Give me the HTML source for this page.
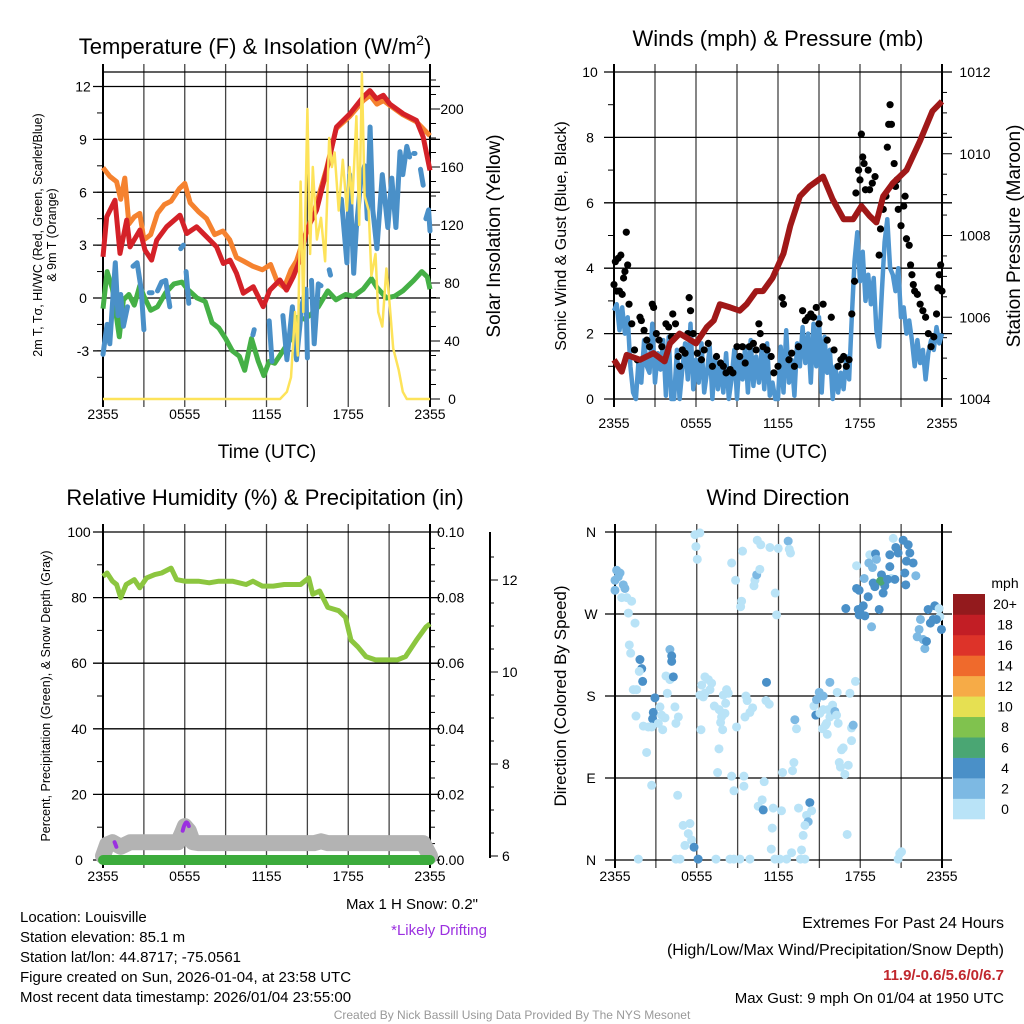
<!DOCTYPE html>
<html><head><meta charset="utf-8"><style>
body{margin:0;background:#fff;}
svg{display:block;font-family:"Liberation Sans",sans-serif;}
</style></head><body>
<svg id="c" width="1024" height="1024" viewBox="0 0 1024 1024"></svg>
<script>
// ---------- DATA ----------
const tempRedH=[0,0.27,0.88,1.25,1.74,1.98,2.71,3.08,3.57,3.94,4.67,5.65,6.14,6.87,7.6,8.34,8.83,9.32,9.8,10.3,11.03,11.76,12.25,12.98,13.47,13.96,14.45,14.94,15.67,16.41,17.14,18.12,19.1,19.59,20.08,20.57,21.06,22.04,23.01,23.5,24];
const tempRedV=[2.34,4.6,5.55,2.53,4.42,2.9,3.85,2.72,2.15,3.28,4.04,4.7,3.66,4.04,3.47,2.9,1.96,2.15,1.4,0.27,0.64,-0.49,0.45,1.02,0.45,1.2,2.15,3.85,4.98,7.24,9.7,10.45,11.4,11.77,11.3,11.5,11.0,10.45,10.07,9.13,7.24];
const tempOrgH=[0,0.5,1.0,1.3,1.6,1.9,2.3,2.7,3.0,3.5,4.0,4.5,5.0,5.6,6.0,6.4,7.0,7.6,8.2,8.8,9.3,9.8,10.3,11.0,11.7,12.3,12.8,13.3,13.8,14.2,14.8,15.5,16.4,17.1,18.1,19.1,19.6,20.1,20.6,21.1,22.0,23.0,23.5,24];
const tempOrgV=[7.4,6.9,6.6,5.6,6.8,4.2,4.6,4.8,3.3,3.6,4.8,5.3,5.5,6.2,6.5,5.4,4.9,4.5,3.6,3.8,3.3,2.3,2.1,1.8,1.6,1.9,0.9,0.6,1.6,2.1,3.5,4.9,7.3,9.6,10.3,11.2,11.5,11.0,11.2,10.9,10.4,10.0,9.6,9.2];
const tempGrnH=[0,0.3,0.7,1.2,1.5,1.9,2.3,2.7,3.0,3.5,4.0,4.6,5.2,5.8,6.2,6.9,7.5,8.0,8.5,9.0,9.5,10.0,10.4,10.9,11.4,11.8,12.2,12.6,13.2,13.8,14.3,14.8,15.3,15.8,16.5,17.1,17.8,18.4,19.1,19.7,20.1,20.8,21.4,22.0,22.8,23.4,23.8,24];
const tempGrnV=[-0.6,1.5,0.5,-2.2,-0.1,0.2,-0.4,0.7,0.1,-0.7,-0.5,0.3,0.8,0.9,0.5,0.0,-0.2,-1.4,-1.7,-2.3,-3.0,-3.3,-4.1,-2.3,-3.6,-4.4,-3.6,-3.7,-3.0,-2.3,-1.1,-1.2,-0.9,-0.5,0.4,-0.1,0.2,0.1,0.5,1.1,0.6,0.0,0.1,0.4,1.0,1.5,1.2,0.5];
const tempBluH=[0,0.3,0.5,0.7,0.9,1.1,1.3,1.5,1.8,null,2.2,2.5,2.8,3.0,null,3.4,3.6,null,4.0,4.3,4.6,4.9,null,5.7,5.9,null,6.1,6.3,null,11.0,11.1,null,12.2,12.4,null,13.2,13.5,13.9,14.2,14.6,14.9,15.0,null,15.3,15.5,15.8,16.0,null,16.6,16.7,null,17.5,17.9,18.1,18.4,18.6,18.9,19.2,19.4,19.6,19.8,20.1,20.5,20.9,21.2,21.5,21.8,22.0,22.3,22.5,null,22.8,22.9,null,23.3,23.5,null,23.7,23.9,24];
const tempBluV=[-3.2,-1.5,-2.6,-0.3,2.0,-1.0,0.2,-1.6,-0.5,null,1.8,2.0,0.5,-1.8,null,0.3,0.3,null,0.4,0.9,1.0,-0.5,null,2.8,3.0,null,1.5,-0.3,null,-2.1,-1.8,null,-1.3,-3.6,null,-1.0,-3.5,-0.5,-3.5,-0.4,0.5,-3.4,null,1.0,-2.6,0.8,0.7,null,1.6,1.3,null,5.6,2.0,7.0,1.4,4.0,6.5,7.5,4.5,9.7,5.0,2.8,7.0,4.0,6.8,4.0,8.3,7.0,8.6,8.0,null,8.2,8.2,null,7.3,6.4,null,4.5,5.0,3.8];
const solarH=[0,13.0,13.5,13.8,14.1,14.3,14.5,14.7,15.0,15.2,15.4,15.7,16.0,16.3,16.6,16.8,17.0,17.3,17.6,17.9,18.1,18.3,18.6,18.8,19.0,19.2,19.5,19.7,20.0,20.2,20.5,20.8,21.0,21.3,21.7,22.0,22.3,24];
const solarV=[0,0,5,15,60,30,150,60,200,100,160,110,125,95,180,160,170,130,165,130,160,135,195,120,225,140,130,85,100,60,50,90,70,35,20,5,0,0];
const presH=[0,0.56,0.93,1.9,2.88,3.7,4.1,4.8,5.6,6.0,6.8,7.3,7.75,8.5,9.2,9.7,10.4,10.9,11.6,12.4,12.9,13.6,14.3,15.3,16.0,16.8,17.5,18.1,18.7,19.2,19.7,20.4,21.4,22.4,23.3,24];
const presV=[1004.96,1004.67,1005.08,1004.96,1005.12,1004.92,1005.36,1005.6,1005.44,1005.36,1005.76,1005.92,1006.32,1006.24,1006.16,1006.32,1006.64,1006.64,1006.96,1007.56,1008.24,1008.96,1009.2,1009.44,1008.88,1008.4,1008.4,1008.72,1008.48,1008.32,1008.96,1009.28,1009.6,1010.32,1011.04,1011.28];
const windV=[2.7,2.9,2.1,2.8,2.0,2.5,1.0,0.2,0,1.2,0.5,1.8,1.0,0.8,2.3,0.5,1.4,0.9,1.8,0.1,1.9,0,0,1.5,0,0.9,1.7,0.6,2.3,0.3,1.2,0.5,1.7,0.2,0.8,1.6,0,1.3,0.3,1.1,0.2,1.4,0,0.6,1.5,0,1.3,0.6,1.6,0.2,1.8,0.4,1.3,0.5,1.5,0.3,1.7,0.1,0.5,0,0,1.6,0.2,2.1,0.5,1.2,0.1,1.7,1.0,2.2,1.1,2.0,0.5,2.3,1.0,2.5,0.2,1.9,0.8,1.5,0,1.0,0.2,0.8,0.3,1.3,0.6,2.5,4.2,5.1,3.6,4.5,3.0,3.8,2.9,3.7,2.1,1.6,3.3,4.8,5.5,4.0,3.8,3.3,4.0,2.5,2.8,2.0,2.4,1.8,1.0,1.8,1.1,1.5,0.6,1.4,1.8,1.5,2.2,1.7,2.0];
const gustH=[0,0.1,0.2,0.3,0.4,0.5,0.6,0.7,0.8,0.9,1.0,1.1,1.3,1.5,1.7,1.9,2.0,2.2,2.4,2.6,2.8,2.9,3.1,3.3,3.5,3.8,4.0,4.2,4.3,4.5,4.7,4.8,5.0,5.2,5.4,5.5,5.6,5.8,6.1,6.4,6.6,6.9,7.2,7.5,7.8,8.0,8.2,8.5,8.7,9.0,9.2,9.4,9.6,9.9,10.2,10.4,10.6,10.7,10.9,11.2,11.5,11.7,12.0,12.3,12.4,12.8,13.0,13.2,13.5,13.8,14.0,14.2,14.4,14.6,14.8,15.0,15.3,15.6,15.9,16.1,16.4,16.6,16.8,17.0,17.2,17.4,17.6,17.7,17.9,18.0,18.1,18.2,18.3,18.4,18.6,18.7,18.9,19.1,19.4,19.5,19.7,19.9,20.0,20.1,20.2,20.3,20.5,20.6,20.7,20.8,21.0,21.2,21.3,21.4,21.6,21.7,21.8,21.9,22.0,22.2,22.4,22.6,22.8,23.0,23.2,23.4,23.6,23.7,23.8,23.9,24];
const gustV=[3.5,4.2,3.3,4.3,3.3,4.4,3.2,3.7,3.9,5.1,4.1,2.9,2.3,1.5,1.2,2.5,2.4,2.1,1.8,1.6,2.9,2.8,2.0,1.8,1.6,2.3,2.2,1.9,2.6,2.3,1.3,1.0,1.5,1.4,2.0,3.1,2.7,2.0,1.4,1.2,1.5,1.7,1.0,1.3,1.1,1.0,0.8,0.9,0.8,1.6,1.3,1.6,1.1,1.6,1.7,1.5,2.3,2.0,1.6,1.5,1.3,0.8,1.0,3.1,2.9,1.2,1.4,1.0,1.6,2.7,2.4,2.5,2.6,2.5,2.8,2.3,2.9,1.8,2.5,1.5,1.0,1.2,1.3,1.0,1.2,2.6,3.6,6.3,7.0,6.7,8.1,7.4,7.2,6.4,7.0,6.4,6.6,6.8,4.4,5.2,5.8,6.2,7.7,8.4,9.0,8.4,7.2,6.5,6.7,5.8,5.3,5.9,6.2,4.9,4.7,4.1,3.8,3.5,3.3,3.2,2.9,2.7,2.5,2.0,1.6,1.9,2.6,3.4,3.8,4.1,3.3];
const rhH=[0,0.3,0.7,1.0,1.3,1.7,2.3,2.7,3.2,3.8,4.3,5.0,5.4,6.0,7.0,7.8,8.5,9.5,10.5,11.0,11.7,12.5,13.3,14.5,15.1,15.4,15.9,16.5,17.3,17.8,18.2,18.7,19.3,20.0,21.0,21.6,22.2,23.0,23.7,24];
const rhV=[86.5,87.5,85,84,80,84,85.5,83,86,87,87.5,89,85.5,85,85,84.5,85,85,84,85,83.5,83.5,84,84,86,81,82,77,76,74,67,65,62,61,61,61,62,67,71,72];
const snowH=[0,0.3,0.7,1.3,2.0,3,4,5.5,5.8,6.0,6.3,6.6,7,10,15.5,16,16.5,20,23.5,24];
const snowV=[6.0,6.25,6.3,6.2,6.3,6.3,6.3,6.3,6.5,6.65,6.55,6.3,6.28,6.28,6.28,6.32,6.28,6.28,6.28,6.0];
const precipH=[0,24];
const precipV=[0,0];
const dirH=[0.12,0.37,0,0.61,0,0.73,0.49,0.86,1.22,0.98,1.47,0.24,1.05,1.15,1.83,1.96,1.78,2.03,1.34,1.59,2.93,2.81,2.76,1.54,2.08,2.44,2.69,3.3,3.42,3.67,3.5,3.18,2.32,2.69,4.03,4.16,4.16,3.74,4.03,4.28,3.84,4.4,4.47,4.65,4.6,5.0,5.5,5.38,5.13,5.62,5.8,6.1,4.47,4.77,1.71,5.87,6.23,5.94,6.04,6.36,6.6,6.85,6.6,7.09,6.48,6.23,6.97,7.29,7.65,7.82,7.75,8.07,8.19,7.95,8.31,8.12,6.31,7.9,7.63,7.53,8.56,8.73,8.92,9.61,9.7,10.1,9.9,9.54,9.46,7.41,8.44,8.73,9.17,9.9,8.56,8.85,9.36,9.29,9.22,10.2,10.27,10.4,10.63,10.44,10.7,11.37,11.98,11.76,11.86,11.12,11.08,11.32,9.46,10.95,10.51,10.8,10.88,11.61,12.22,11.54,11.47,11.74,12.1,12.59,12.3,13.03,13.13,12.96,13.69,13.62,13.94,13.47,14.06,14.18,14.3,14.43,13.94,13.81,12.71,12.79,12.88,13.2,13.32,14.6,14.79,14.99,14.74,15.28,15.28,15.77,15.53,15.65,15.97,16.14,16.26,16.38,15.04,15.23,15.45,15.58,15.77,16.31,17.24,17.65,17.36,17.48,17.36,16.75,16.63,16.46,16.55,17.12,16.87,17.04,17.73,18.7,19.12,19.19,18.63,18.9,18.29,17.73,17.92,18.95,19.56,19.8,19.68,19.49,19.07,18.58,18.22,17.97,17.92,18.34,19.39,16.94,20.17,20.42,20.78,20.61,21.15,21.52,21.64,21.39,21.88,21.27,22.08,21.34,20.29,20.54,20.17,20.0,17.85,22.98,23.47,23.79,23.84,23.96,23.59,23.15,23.35,22.42,22.32,22.18,22.62,22.74,22.86,18.83,20.78,21.03,20.9];
const dirV=[318,315,307,302,296,298,288,288,284,271,260,311,236,227,220,210,207,196,187,187,178,162,155,158,147,146,146,168,159,156,143,150,118,82,231,224,218,202,198,201,183,168,150,157,71,38,40,29,16,22,14,1,1,1,1,357,359,344,330,192,201,198,183,194,179,181,187,169,165,157,151,161,187,181,183,172,143,143,122,96,92,76,146,180,175,167,162,157,92,1,1,1,1,1,326,307,339,284,278,301,307,313,319,351,346,343,342,293,269,195,175,171,81,86,59,66,55,57,54,35,12,1,1,1,96,98,107,8,11,1,1,57,49,42,63,54,38,27,350,341,337,154,144,169,176,184,159,180,165,157,150,165,170,163,159,150,161,144,148,138,195,184,183,196,145,148,131,123,121,107,102,104,94,28,323,335,336,330,326,321,309,298,296,304,313,301,293,306,300,289,279,274,269,268,275,276,335,353,337,343,351,346,337,328,326,315,312,302,309,308,322,308,275,275,279,276,267,253,264,260,264,264,253,245,242,232,240,256,1,9,7,2];
const dirSpd=[3,3,2,3,2,2,1,1,1,1,1,3,1,1,4,4,1,4,1,1,4,4,4,1,1,1,1,1,1,1,1,1,1,1,3,4,4,1,1,4,1,1,1,1,1,1,1,1,1,1,4,4,1,1,1,1,1,1,1,1,1,1,1,1,1,1,1,1,1,1,1,1,1,1,1,1,1,1,1,1,1,1,1,1,1,1,1,1,1,1,1,1,1,1,1,1,1,1,1,1,1,3,1,1,1,1,1,1,1,4,1,1,1,1,1,1,4,1,1,1,1,1,1,1,1,1,1,1,1,1,1,1,1,3,4,1,1,1,3,1,1,3,1,1,3,3,4,3,1,1,1,1,1,3,1,1,1,1,1,1,3,1,1,1,1,3,1,1,1,1,1,1,1,1,1,1,5,3,3,3,3,5,5,5,5,4,5,7,5,4,4,5,5,5,4,4,4,1,5,5,5,4,4,4,4,4,3,4,1,4,5,5,5,4,5,1,1,4,4,4,4,3,3,3,3,3,4,3,1,1,1,3,1,5,5,5,5];
const cbLabels=["0","2","4","6","8","10","12","14","16","18","20+"];
const cbColors=["#b9e3f7","#7db9e3","#4a90c8","#4aa673","#80c24e","#e6e052","#f6ab47","#ef6a2c","#dd3329","#c21e25","#931a1d"];
const xTicks=["2355","0555","1155","1755","2355"];

// ---------- HELPERS ----------
const NS="http://www.w3.org/2000/svg";
const svg=document.getElementById('c');
function el(tag,attrs,parent){const e=document.createElementNS(NS,tag);for(const k in attrs)e.setAttribute(k,attrs[k]);(parent||svg).appendChild(e);return e;}
function txt(s,x,y,size,anchor,parent,extra){const t=el('text',Object.assign({x:x,y:y,'font-size':size,'text-anchor':anchor||'middle',fill:'#000'},extra||{}),parent);t.textContent=s;return t;}
function lin(d0,d1,r0,r1){return v=>r0+(v-d0)*(r1-r0)/(d1-d0);}
function pathD(hs,vs,fx,fy){let d='',pen=false;for(let i=0;i<hs.length;i++){if(hs[i]===null||vs[i]===null){pen=false;continue;}d+=(pen?'L':'M')+fx(hs[i]).toFixed(1)+','+fy(vs[i]).toFixed(1);pen=true;}return d;}
function grid(g,L,R,T,B,hy){for(let i=1;i<8;i++){const x=L+(R-L)*i/8;el('line',{x1:x,y1:T-8,x2:x,y2:B+8,stroke:'#444','stroke-width':1.3},g);}
 hy.forEach(y=>el('line',{x1:L-10,y1:y,x2:R+10,y2:y,stroke:'#000','stroke-width':1.3},g));
 el('line',{x1:L,y1:T-8,x2:L,y2:B+8,stroke:'#000','stroke-width':2},g);el('line',{x1:R,y1:T-8,x2:R,y2:B+8,stroke:'#000','stroke-width':2},g);}
function xlabels(g,L,R,y){xTicks.forEach((s,i)=>txt(s,L+(R-L)*i/4,y,14,'middle',g));}

// ---------- PANEL 1 ----------
{const g=el('g',{});
const L=103,R=430,T=72,B=399;
const fx=lin(0,24,L,R),fy=lin(0,12,298,86.5),fs=lin(0,200,399,109);
grid(g,L,R,T,B,[0,3,6,9,12,-3].map(fy));
el('line',{x1:L,y1:T,x2:R,y2:T,stroke:'#000','stroke-width':1.3},g);
for(let v=-4.5;v<=12.5;v+=1.5){el('line',{x1:L-6,y1:fy(v),x2:L,y2:fy(v),stroke:'#000'},g);}
for(let v=0;v<=220;v+=10){el('line',{x1:R,y1:fs(v),x2:R+(v%40==0?10:6),y2:fs(v),stroke:'#000'},g);}
[12,9,6,3,0,-3].forEach(v=>txt(String(v),L-20,fy(v)+5,14,'middle',g));
[0,40,80,120,160,200].forEach(v=>txt(String(v),R+22,fs(v)+5,14,'middle',g));
xlabels(g,L,R,419);
const p1=el('path',{d:pathD(tempOrgH,tempOrgV,fx,fy),fill:'none',stroke:'#f5822f','stroke-width':5,'stroke-linejoin':'round'},g);

const p2=el('path',{d:pathD(tempRedH,tempRedV,fx,fy),fill:'none',stroke:'#d42128','stroke-width':5,'stroke-linejoin':'round'},g);

const p3=el('path',{d:pathD(tempGrnH,tempGrnV,fx,fy),fill:'none',stroke:'#45b046','stroke-width':5,'stroke-linejoin':'round'},g);

const p4=el('path',{d:pathD(tempBluH,tempBluV,fx,fy),fill:'none',stroke:'#4a90c8','stroke-width':5,'stroke-linejoin':'round','stroke-linecap':'round'},g);

const p5=el('path',{d:pathD(solarH,solarV,fx,fs),fill:'none',stroke:'#fde35a','stroke-width':2.5,'stroke-linejoin':'round'},g);

const t1=txt('Temperature (F) & Insolation (W/m',255,54,22,'middle',g);const sup=el('tspan',{dy:-9,'font-size':14},t1);sup.textContent='2';const cl=el('tspan',{dy:9},t1);cl.textContent=')';

txt('Time (UTC)',267,458,19,'middle',g);
txt('2m T, T',0,0,12.5,'middle',g,{transform:'translate(42,235) rotate(-90)'});
const yl=txt('2m T, T',0,0,12.5,'middle',g,{transform:'translate(42,235) rotate(-90)'});yl.textContent='2m T, Tσ, HI/WC (Red, Green, Scarlet/Blue)';
g.removeChild(g.children[g.children.length-2]);
txt('& 9m T (Orange)',0,0,12.5,'middle',g,{transform:'translate(56,235) rotate(-90)'});
txt('Solar Insolation (Yellow)',0,0,19,'middle',g,{transform:'translate(500,236) rotate(-90)'});
}

// ---------- PANEL 2 ----------
{const g=el('g',{});
const L=614,R=942,T=72,B=399;
const fx=lin(0,24,L,R),fy=lin(0,10,399,72),fp=lin(1004,1012,399,72);
grid(g,L,R,T,B,[0,2,4,6,8,10].map(fy));
for(let v=1;v<10;v+=2)el('line',{x1:L-6,y1:fy(v),x2:L,y2:fy(v),stroke:'#000'},g);
for(let v=1004;v<=1012;v+=0.5)el('line',{x1:R,y1:fp(v),x2:R+(v%2==0?10:5),y2:fp(v),stroke:'#000'},g);
[0,2,4,6,8,10].forEach(v=>txt(String(v),L-24,fy(v)+5,14,'middle',g));
[1004,1006,1008,1010,1012].forEach(v=>txt(String(v),R+33,fp(v)+5,14,'middle',g));
xlabels(g,L,R,428);
const wh=windV.map((v,i)=>24*i/(windV.length-1));
const w=el('path',{d:pathD(wh,windV,fx,fy),fill:'none',stroke:'#4f96d0','stroke-width':4.5,'stroke-linejoin':'round'},g);

gustH.forEach((h,i)=>{const c=el('circle',{cx:fx(h),cy:fy(gustV[i]),r:3.6,fill:'#000'},g);

});
const pp=el('path',{d:pathD(presH,presV,fx,fp),fill:'none',stroke:'#a01818','stroke-width':6,'stroke-linejoin':'round'},g);

txt('Winds (mph) & Pressure (mb)',778,46,22,'middle',g);
txt('Time (UTC)',778,458,19,'middle',g);
txt('Sonic Wind & Gust (Blue, Black)',0,0,16,'middle',g,{transform:'translate(566,236) rotate(-90)'});
txt('Station Pressure (Maroon)',0,0,19,'middle',g,{transform:'translate(1020,236) rotate(-90)'});
}

// ---------- PANEL 3 ----------
{const g=el('g',{});
const L=103,R=430,T=532,B=860;
const fx=lin(0,24,L,R),fy=lin(0,100,860,532),fs=lin(6,12,856,580),fpr=lin(0,0.1,860,532);
grid(g,L,R,T,B,[0,20,40,60,80,100].map(fy));
for(let v=10;v<100;v+=20)el('line',{x1:L-6,y1:fy(v),x2:L,y2:fy(v),stroke:'#000'},g);
for(let v=0;v<=0.1001;v+=0.005)el('line',{x1:R,y1:fpr(v),x2:R+(Math.round(v*1000)%20==0?10:5),y2:fpr(v),stroke:'#000'},g);
[0,20,40,60,80,100].forEach(v=>txt(String(v),L-24,fy(v)+5,14,'middle',g));
["0.00","0.02","0.04","0.06","0.08","0.10"].forEach((s,i)=>txt(s,R+7,fpr(i*0.02)+5,14,'start',g));
el('line',{x1:490,y1:532,x2:490,y2:858,stroke:'#000','stroke-width':2},g);
for(let v=6;v<=12.9;v+=0.5)el('line',{x1:490,y1:fs(v),x2:490+(v%2==0?8:4),y2:fs(v),stroke:'#000'},g);
[6,8,10,12].forEach(v=>txt(String(v),502,fs(v)+5,14,'start',g));
xlabels(g,L,R,881);
const rh=el('path',{d:pathD(rhH,rhV,fx,fy),fill:'none',stroke:'#8cc63f','stroke-width':5,'stroke-linejoin':'round'},g);

const sn=el('path',{d:pathD(snowH,snowV,fx,fs),fill:'none',stroke:'#b3b3b3','stroke-width':16,'stroke-linejoin':'round','stroke-linecap':'round'},g);

const pr=el('path',{d:pathD(precipH,precipV,fx,fpr),fill:'none',stroke:'#3cab3c','stroke-width':10,'stroke-linecap':'round'},g);

el('path',{d:`M${fx(0.85)},${fs(6.3)}L${fx(0.98)},${fs(6.2)}`,stroke:'#9b30e0','stroke-width':4,'stroke-linecap':'round',fill:'none'},g);
el('path',{d:`M${fx(5.85)},${fs(6.55)}Q${fx(6.1)},${fs(6.85)} ${fx(6.3)},${fs(6.65)}`,stroke:'#9b30e0','stroke-width':4,'stroke-linecap':'round',fill:'none'},g);
txt('Relative Humidity (%) & Precipitation (in)',265,505,22,'middle',g);
txt('Percent, Precipitation (Green), & Snow Depth (Gray)',0,0,12.5,'middle',g,{transform:'translate(50,696) rotate(-90)'});
txt('Max 1 H Snow: 0.2"',478,909,15,'end',g);
txt('*Likely Drifting',487,935,15,'end',g,{fill:'#9b30e0'});
}

// ---------- PANEL 4 ----------
{const g=el('g',{});
const L=615,R=942,T=532,B=860;
const fx=lin(0,24,L,R),fy=lin(0,360,860,532);
grid(g,L,R,T,B,[0,90,180,270,360].map(fy));
["N","E","S","W","N"].forEach((s,i)=>txt(s,L-24,fy(i*90)+5,14,'middle',g));
xlabels(g,L,R,881);
const col=s=>cbColors[Math.min(10,Math.floor(s/2))];
dirH.forEach((h,i)=>{const c=el('circle',{cx:fx(h),cy:fy(dirV[i]),r:4.5,fill:col(dirSpd[i])},g);

});
txt('Wind Direction',778,505,22,'middle',g);
txt('Direction (Colored By Speed)',0,0,17,'middle',g,{transform:'translate(566,696) rotate(-90)'});
const cb=el('g',{},g);
const h=225/11;
cbColors.forEach((c,i)=>{el('rect',{x:953,y:819-(i+1)*h,width:32,height:h+0.3,fill:c},cb);
txt(cbLabels[i],1005,819-(i+0.5)*h+5,14,'middle',cb);});
txt('mph',1005,588,14,'middle',cb);
}

// ---------- FOOTER ----------
{const g=el('g',{});
['Location: Louisville','Station elevation: 85.1 m','Station lat/lon: 44.8717; -75.0561','Figure created on Sun, 2026-01-04, at 23:58 UTC','Most recent data timestamp: 2026/01/04 23:55:00'].forEach((s,i)=>txt(s,20,922+i*20,15,'start',g));
const e=el('g',{});
txt('Extremes For Past 24 Hours',1004,928,16,'end',e);
txt('(High/Low/Max Wind/Precipitation/Snow Depth)',1004,955,16,'end',e);
txt('11.9/-0.6/5.6/0/6.7',1004,980,15,'end',e,{fill:'#c0272d','font-weight':'bold'});
txt('Max Gust: 9 mph On 01/04 at 1950 UTC',1004,1003,15,'end',e);
txt('Created By Nick Bassill Using Data Provided By The NYS Mesonet',512,1019,12,'middle',svg,{fill:'#999'});
}
</script>
</body></html>
